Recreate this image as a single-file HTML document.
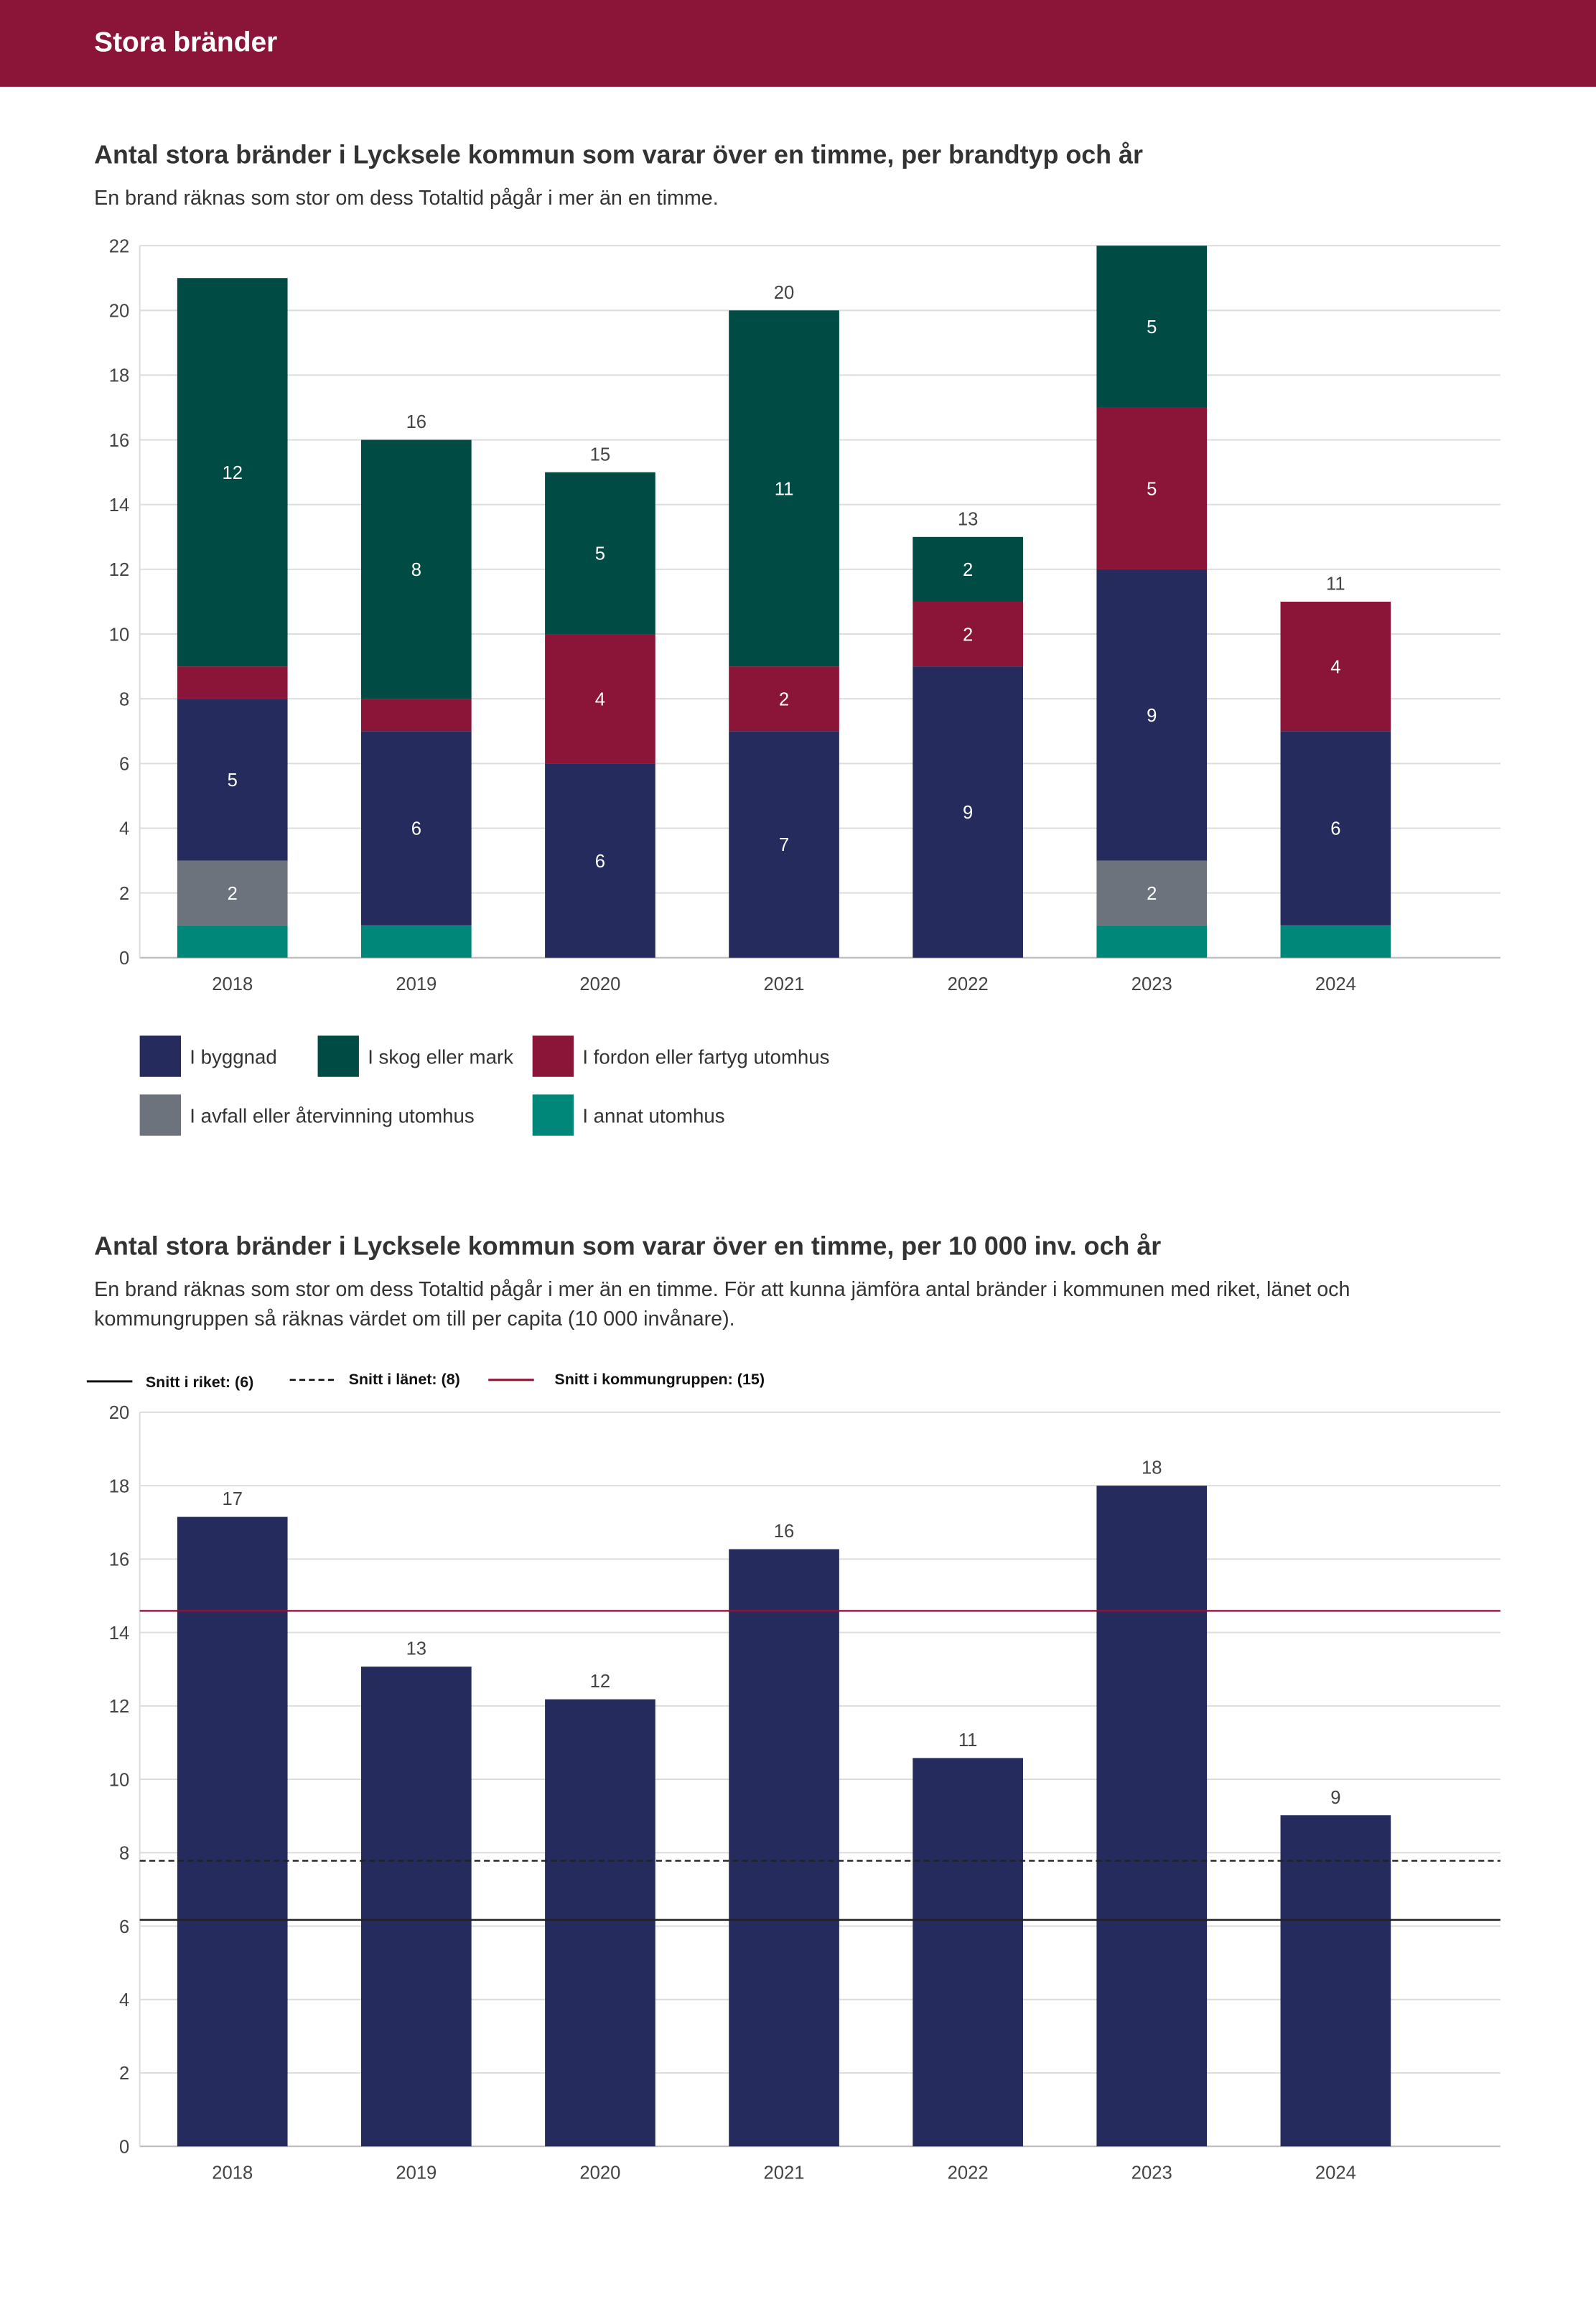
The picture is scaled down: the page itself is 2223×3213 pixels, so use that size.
<!DOCTYPE html>
<html><head><meta charset="utf-8">
<style>
html,body{margin:0;padding:0;background:#fff;}
svg{display:block;}
text{font-family:"Liberation Sans",sans-serif;}
</style></head>
<body>
<svg id="page" width="2223" height="3213" viewBox="0 0 1085 1568.2" preserveAspectRatio="none" xmlns="http://www.w3.org/2000/svg">
<rect x="0" y="0" width="1085" height="59" fill="#8b1538"/>
<text x="64" y="35" font-size="19" font-weight="bold" fill="#fff">Stora bränder</text>

<text x="64" y="111" font-size="17.5" font-weight="bold" fill="#333">Antal stora bränder i Lycksele kommun som varar över en timme, per brandtyp och år</text>
<text x="64" y="139" font-size="14" fill="#333">En brand räknas som stor om dess Totaltid pågår i mer än en timme.</text>
<g id="chart1"></g>

<g>
<rect x="95" y="704" width="28" height="28" fill="#252b5c"/>
<text x="129" y="723" font-size="13.5" fill="#333">I byggnad</text>
<rect x="216" y="704" width="28" height="28" fill="#004b43"/>
<text x="250" y="723" font-size="13.5" fill="#333">I skog eller mark</text>
<rect x="362" y="704" width="28" height="28" fill="#8b1538"/>
<text x="396" y="723" font-size="13.5" fill="#333">I fordon eller fartyg utomhus</text>
<rect x="95" y="744" width="28" height="28" fill="#6c737c"/>
<text x="129" y="763" font-size="13.5" fill="#333">I avfall eller återvinning utomhus</text>
<rect x="362" y="744" width="28" height="28" fill="#00877a"/>
<text x="396" y="763" font-size="13.5" fill="#333">I annat utomhus</text>
</g>

<text x="64" y="853" font-size="17.5" font-weight="bold" fill="#333">Antal stora bränder i Lycksele kommun som varar över en timme, per 10 000 inv. och år</text>
<text x="64" y="881" font-size="14" fill="#333">En brand räknas som stor om dess Totaltid pågår i mer än en timme. För att kunna jämföra antal bränder i kommunen med riket, länet och</text>
<text x="64" y="901" font-size="14" fill="#333">kommungruppen så räknas värdet om till per capita (10 000 invånare).</text>

<g>
<line x1="59" y1="939" x2="90" y2="939" stroke="#111" stroke-width="1.5"/>
<text x="99" y="943" font-size="10.5" font-weight="bold" fill="#111">Snitt i riket: (6)</text>
<line x1="197" y1="938" x2="228" y2="938" stroke="#111" stroke-width="1.3" stroke-dasharray="4,2.5"/>
<text x="237" y="941" font-size="10.5" font-weight="bold" fill="#111">Snitt i länet: (8)</text>
<line x1="332" y1="938" x2="363" y2="938" stroke="#8b1538" stroke-width="1.5"/>
<text x="377" y="941" font-size="10.5" font-weight="bold" fill="#111">Snitt i kommungruppen: (15)</text>
</g>
<g id="chart2"></g>
</svg>
<script>
const years = ["2018","2019","2020","2021","2022","2023","2024"];
const annat   = [1,1,0,0,0,1,1];
const avfall  = [2,0,0,0,0,2,0];
const byggnad = [5,6,6,7,9,9,6];
const fordon  = [1,1,4,2,2,5,4];
const skog    = [12,8,5,11,2,5,0];
const ticks1 = [0,2,4,6,8,10,12,14,16,18,20,22];

const perCapita = [17.15,13.07,12.18,16.27,10.58,18.0,9.02];
const perCapitaLabels = ["17","13","12","16","11","18","9"];
const ticks2 = [0,2,4,6,8,10,12,14,16,18,20];
const avgRiket = 6.17;
const avgLanet = 7.78;
const avgKommungrupp = 14.59;

const NS = "http://www.w3.org/2000/svg";
function mk(tag, attrs, parent){
  const e = document.createElementNS(NS, tag);
  for (const k in attrs) e.setAttribute(k, attrs[k]);
  parent.appendChild(e);
  return e;
}
const left = 95, right = 1020, step = 125, firstX = 158, barW = 75;
const xC = i => firstX + i*step;

// Chart 1
(function(){
  const g = document.getElementById('chart1');
  const y0 = 651, y1 = 167, max = 22;
  const y = v => y0 - (v/max)*(y0-y1);
  ticks1.forEach(t=>{
    const l = mk('line',{x1:left,x2:right,y1:y(t),y2:y(t),stroke:t===0?'#bbb':'#ddd','stroke-width':1},g);
    
    
    const tx = mk('text',{x:88,y:y(t)+4.5,'text-anchor':'end','font-size':12.5,fill:'#444'},g);
    tx.textContent = t;
    
    
  });
  const ax = mk('line',{x1:left,x2:left,y1:y1,y2:y0,stroke:'#ddd'},g);
  
  
  const series = [[annat,'#00877a','annat'],[avfall,'#6c737c','avfall'],[byggnad,'#252b5c','byggnad'],[fordon,'#8b1538','fordon'],[skog,'#004b43','skog']];
  years.forEach((yr,i)=>{
    let acc = 0;
    series.forEach(([arr,col,nm])=>{
      const v = arr[i];
      if (v<=0) return;
      const top = y(acc+v), bot = y(acc);
      const r = mk('rect',{x:xC(i)-barW/2,y:top,width:barW,height:bot-top,fill:col},g);
      
      
      if (v>=2){
        const t = mk('text',{x:xC(i),y:(top+bot)/2+4.5,'text-anchor':'middle','font-size':12.5,fill:'#fff'},g);
        t.textContent = v;
        
        
      }
      acc += v;
    });
    if (acc < 21){
      const t = mk('text',{x:xC(i),y:y(acc)-8,'text-anchor':'middle','font-size':12.5,fill:'#444'},g);
      t.textContent = acc;
      
      
    }
    const xl = mk('text',{x:xC(i),y:673,'text-anchor':'middle','font-size':12.5,fill:'#444'},g);
    xl.textContent = yr;
    
    
  });
})();

// Chart 2
(function(){
  const g = document.getElementById('chart2');
  const y0 = 1459, y1 = 960, max = 20;
  const y = v => y0 - (v/max)*(y0-y1);
  ticks2.forEach(t=>{
    const l = mk('line',{x1:left,x2:right,y1:y(t),y2:y(t),stroke:t===0?'#bbb':'#ddd','stroke-width':1},g);
    
    
    const tx = mk('text',{x:88,y:y(t)+4.5,'text-anchor':'end','font-size':12.5,fill:'#444'},g);
    tx.textContent = t;
    
    
  });
  const ax = mk('line',{x1:left,x2:left,y1:y1,y2:y0,stroke:'#ddd'},g);
  
  
  years.forEach((yr,i)=>{
    const v = perCapita[i];
    const r = mk('rect',{x:xC(i)-barW/2,y:y(v),width:barW,height:y0-y(v),fill:'#252b5c'},g);
    
    
    const t = mk('text',{x:xC(i),y:y(v)-8,'text-anchor':'middle','font-size':12.5,fill:'#444'},g);
    t.textContent = perCapitaLabels[i];
    
    
    const xl = mk('text',{x:xC(i),y:1481,'text-anchor':'middle','font-size':12.5,fill:'#444'},g);
    xl.textContent = yr;
    
    
  });
  const l1 = mk('line',{x1:left,x2:right,y1:y(avgRiket),y2:y(avgRiket),stroke:'#222','stroke-width':1.2},g);
  
  
  const l2 = mk('line',{x1:left,x2:right,y1:y(avgLanet),y2:y(avgLanet),stroke:'#222','stroke-width':1.1,'stroke-dasharray':'4,2.5'},g);
  
  
  const l3 = mk('line',{x1:left,x2:right,y1:y(avgKommungrupp),y2:y(avgKommungrupp),stroke:'#8b1538','stroke-width':1.2},g);
  
  
})();
</script>
</body></html>
